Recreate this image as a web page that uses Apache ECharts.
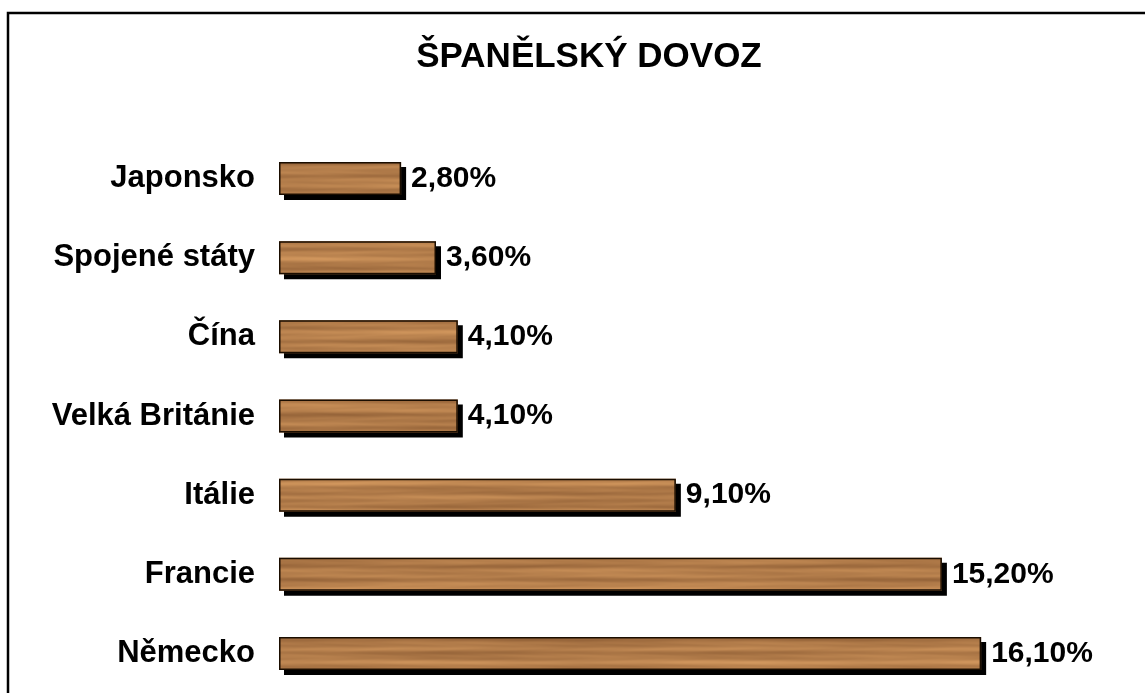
<!DOCTYPE html>
<html>
<head>
<meta charset="utf-8">
<script src="https://cdn.jsdelivr.net/npm/echarts@6/dist/echarts.min.js"></script>
<style>
    html, body { margin: 0; padding: 0; background: #fff; }
    #chart { width: 1145px; height: 693px; }
</style>
</head>
<body>
<div id="chart"></div>
<script>
const titleText = 'ŠPANĚLSKÝ DOVOZ';
const categories = ['Japonsko', 'Spojené státy', 'Čína', 'Velká Británie', 'Itálie', 'Francie', 'Německo'];
const values = [2.8, 3.6, 4.1, 4.1, 9.1, 15.2, 16.1];

const FONT = '"Liberation Sans", Arial, sans-serif';

// wood-like fill for the bars (soft horizontal grain)
function woodTexture(w, h) {
    const c = document.createElement('canvas');
    c.width = w;
    c.height = h;
    const ctx = c.getContext('2d');
    const img = ctx.createImageData(w, h);
    for (let y = 0; y < h; y++) {
        const band = 0.5 * Math.sin(y * 0.42) + 0.35 * Math.sin(y * 0.95 + 1) + 0.25 * Math.sin(y * 0.17 + 2);
        for (let x = 0; x < w; x++) {
            const v = band
                + 0.3 * Math.sin(x * 0.021 + Math.sin(y * 0.3) * 2)
                + 0.18 * Math.sin(x * 0.007 + y * 0.05)
                + 0.1 * Math.sin(x * 0.09 + Math.sin(y * 0.6) * 3);
            const i = (y * w + x) * 4;
            img.data[i] = 178 + 20 * v;
            img.data[i + 1] = 124 + 17 * v;
            img.data[i + 2] = 74 + 12 * v;
            img.data[i + 3] = 255;
        }
    }
    ctx.putImageData(img, 0, 0);
    return c;
}

const chartInstance = echarts.init(document.getElementById('chart'));

const option = {
    animation: false,
    backgroundColor: '#fff',
    title: {
        text: titleText,
        left: 584,
        textAlign: 'center',
        top: 35,
        textStyle: {
            fontFamily: FONT,
            fontSize: 35,
            fontWeight: 'bold',
            color: '#000'
        }
    },
    graphic: [{
        type: 'rect',
        silent: true,
        shape: { x: 8, y: 13, width: 1300, height: 900 },
        style: { fill: 'none', stroke: '#000', lineWidth: 2.5 }
    }],
    grid: {
        left: 279,
        top: 139,
        width: 785,
        height: 563
    },
    xAxis: {
        type: 'value',
        min: 0,
        max: 18,
        show: false,
        splitLine: { show: false }
    },
    yAxis: {
        type: 'category',
        data: categories,
        inverse: true,
        axisLine: { show: false },
        axisTick: { show: false },
        splitLine: { show: false },
        axisLabel: {
            margin: 24,
            fontFamily: FONT,
            fontSize: 31,
            fontWeight: 'bold',
            color: '#000'
        }
    },
    series: [
        {
            // wood fill with the hard black shadow
            type: 'bar',
            data: values,
            barWidth: 33,
            itemStyle: {
                color: { image: woodTexture(1145, 720), repeat: 'repeat' },
                shadowColor: '#000',
                shadowBlur: 0,
                shadowOffsetX: 5,
                shadowOffsetY: 5
            }
        },
        {
            // outline drawn on top, carries the value labels
            type: 'bar',
            data: values,
            barWidth: 33,
            barGap: '-100%',
            itemStyle: {
                color: 'transparent',
                borderColor: '#1a0d00',
                borderWidth: 1.5
            },
            label: {
                show: true,
                position: 'right',
                distance: 10,
                fontFamily: FONT,
                fontSize: 30,
                fontWeight: 'bold',
                color: '#000',
                formatter: (p) => p.value.toFixed(2).replace('.', ',') + '%'
            }
        }
    ]
};

chartInstance.setOption(option);
window.addEventListener('resize', () => chartInstance.resize());
</script>
</body>
</html>
